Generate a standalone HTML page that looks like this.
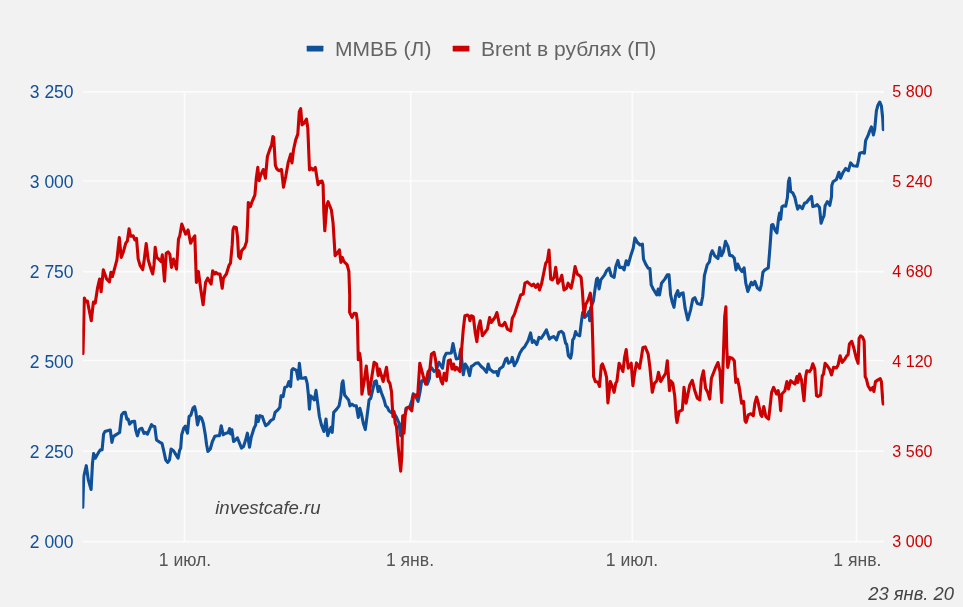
<!DOCTYPE html>
<html><head><meta charset="utf-8">
<style>
html,body{margin:0;padding:0;background:#f2f2f2;}
svg{display:block;filter:blur(0.35px);font-family:"Liberation Sans",sans-serif;}
</style></head><body>
<svg width="963" height="607" viewBox="0 0 963 607">
<rect width="963" height="607" fill="#f2f2f2"/>
<g stroke="#fcfcfc" stroke-width="1.7" fill="none">
<path d="M83 91.9H884M83 181.0H884M83 271.7H884M83 360.5H884M83 451.1H884M83 541.6H884"/>
<path d="M184.5 91.9V541.6M410.6 91.9V541.6M632.3 91.9V541.6M856.5 91.9V541.6"/>
</g>
<clipPath id="pc"><rect x="82.3" y="88" width="801.9" height="456"/></clipPath>
<g id="lines" clip-path="url(#pc)" fill="none" stroke-width="3.1" stroke-linejoin="round" stroke-linecap="round">
<path id="blue" stroke="#0f5098" d="M82.8 507.3L83.7 476.5L86.3 465.7L88.3 479.9L91.1 489.5L92.5 463.2L93.6 453.6L95.3 458.2L99.1 451.6L100.3 449.9L102.1 449.9L103.6 434.1L104.9 431.6L107.4 430.8L110.3 430.0L111.9 442.4L113.3 436.6L115.8 434.9L119.6 432.5L121.6 415.0L123.6 412.5L125.2 412.2L126.9 419.1L128.2 419.1L129.6 424.1L131.9 421.6L134.6 421.3L135.7 430.0L137.4 435.8L139.5 429.1L141.9 428.3L144.0 433.3L145.7 432.5L147.4 434.1L149.9 428.3L151.5 424.6L153.2 426.3L154.8 426.6L156.5 439.9L159.5 442.1L162.0 443.3L163.7 450.7L165.7 459.9L167.8 462.4L169.5 459.9L171.1 449.1L173.5 450.7L175.6 454.1L178.1 458.2L179.5 450.7L180.7 448.1L181.7 434.8L183.7 428.2L185.3 426.2L187.5 433.2L189.1 416.5L190.8 415.2L193.0 408.2L194.6 406.6L195.8 411.5L197.5 424.9L199.6 416.5L201.6 418.2L203.3 423.2L205.3 434.8L206.6 444.8L207.9 451.5L210.3 449.0L212.4 441.5L214.9 436.2L217.4 435.7L219.4 435.7L221.2 425.7L223.2 434.8L225.7 433.2L228.2 432.8L229.6 428.5L230.7 434.0L231.9 429.8L233.6 441.5L235.7 439.8L237.4 437.8L239.5 443.1L241.5 448.1L243.5 446.5L245.7 439.8L247.4 433.2L249.5 447.3L251.2 437.3L254.0 428.2L255.7 424.9L256.5 415.7L258.2 421.5L259.8 415.7L262.3 416.5L264.0 421.5L265.7 425.7L268.1 424.0L270.6 420.7L273.5 419.0L275.1 412.4L278.1 409.6L279.8 407.4L281.1 395.7L283.1 396.6L284.8 387.4L287.3 386.3L288.9 381.6L290.6 386.6L291.8 370.0L293.1 368.6L296.4 370.3L298.1 379.1L299.4 363.3L301.1 378.3L303.1 378.3L305.6 377.5L307.2 383.3L308.4 394.9L309.4 409.1L310.6 395.7L312.2 397.4L314.4 399.9L316.0 390.4L317.7 403.2L319.4 416.5L321.4 424.9L323.9 431.5L326.0 419.0L327.7 435.7L329.4 430.7L331.0 427.3L332.2 432.3L333.7 412.4L336.7 409.1L339.1 405.8L340.8 396.6L342.0 383.3L343.0 380.8L344.6 395.0L346.6 397.5L348.6 399.9L350.0 405.8L352.0 404.1L354.1 405.8L356.3 405.8L358.3 417.4L359.9 408.3L361.3 413.3L363.3 423.2L365.3 429.6L366.9 417.4L369.1 399.9L370.7 398.3L372.9 389.1L374.6 381.7L376.2 380.8L378.2 391.6L379.4 386.6L381.6 393.3L384.1 399.9L385.7 405.8L387.4 407.4L389.0 410.8L391.2 412.4L394.0 413.3L396.5 417.4L399.0 423.2L400.7 435.7L402.0 424.9L403.2 416.6L405.2 414.3L406.0 408.4L410.0 406.3L412.0 399.9L413.2 393.8L416.0 397.0L418.1 401.3L420.0 392.0L421.6 381.0L423.1 380.0L427.3 384.1L429.5 378.3L429.8 369.8L431.5 367.7L434.0 371.5L436.4 369.8L438.9 362.3L442.5 368.2L444.2 357.4L446.3 353.2L449.1 353.2L451.3 352.9L453.0 343.6L454.6 351.6L456.3 359.0L459.1 358.2L460.8 349.1L462.1 363.2L463.3 374.8L465.3 364.0L467.4 367.4L469.6 375.7L471.3 366.5L472.9 365.7L475.8 363.2L478.3 362.9L481.2 366.5L483.6 368.5L486.6 372.3L488.2 364.0L489.6 369.0L493.6 372.3L496.5 371.5L497.9 375.7L499.5 369.0L502.9 366.5L505.7 359.0L506.9 358.2L508.5 363.2L511.2 361.5L512.3 357.4L514.3 365.7L516.8 361.5L519.8 353.2L522.3 349.1L524.8 346.6L528.1 340.7L530.6 332.9L532.3 342.4L534.0 340.7L536.8 344.6L539.0 337.4L541.1 338.3L544.0 334.1L546.4 329.9L549.4 339.1L551.4 337.4L553.9 336.6L556.4 339.9L558.9 332.4L561.4 331.3L563.4 333.3L565.6 343.2L566.7 344.1L568.4 355.7L570.6 358.2L571.7 353.2L572.7 339.9L573.9 338.3L575.6 331.6L577.2 334.9L579.7 335.8L581.4 321.6L582.7 312.5L584.7 317.5L587.2 315.0L588.9 311.6L589.7 320.8L590.5 308.3L593.3 301.5L595.3 287.4L596.6 279.1L597.5 278.2L599.1 289.0L600.8 279.9L604.6 274.9L606.6 270.7L609.1 268.2L611.3 275.7L614.1 277.4L615.8 266.6L617.9 260.4L619.6 267.4L622.4 267.4L624.1 269.9L626.2 260.8L628.2 264.9L630.7 255.8L633.2 248.3L634.9 238.0L637.4 242.5L640.2 245.0L642.4 244.1L643.5 259.1L645.7 264.1L648.2 268.2L649.9 268.6L651.2 284.9L653.2 289.0L656.8 294.9L658.2 289.0L659.5 294.9L661.5 283.2L664.8 279.1L667.3 274.9L669.0 274.9L670.6 294.9L672.3 302.3L674.0 307.3L675.6 295.7L677.8 290.7L679.0 296.5L681.5 293.2L683.1 292.9L685.1 308.2L687.8 319.8L690.6 309.8L692.8 299.0L694.8 297.7L697.3 303.5L701.1 304.5L702.7 296.5L704.4 275.7L707.2 264.9L709.4 261.9L710.6 254.9L712.2 250.8L714.7 255.8L718.0 258.6L719.7 247.5L721.4 255.8L723.4 251.6L725.5 241.3L728.0 246.6L729.7 255.4L732.2 255.8L734.3 258.3L736.0 269.9L737.7 264.1L740.0 269.1L742.0 271.5L744.1 267.8L745.8 283.1L747.8 291.5L750.0 285.6L751.3 282.3L753.0 284.8L754.9 281.5L757.4 288.1L759.9 290.1L761.3 284.8L762.9 272.3L764.9 269.8L768.3 267.8L769.9 248.2L771.6 224.9L772.9 224.6L774.9 229.9L776.9 232.9L778.6 218.3L779.6 213.0L780.7 219.1L781.9 207.0L783.2 205.8L785.7 206.3L787.4 197.5L788.5 181.5L789.5 178.2L790.7 191.5L792.9 193.1L794.9 197.5L796.2 203.3L797.7 209.1L799.5 205.8L802.3 208.6L804.5 203.3L806.5 202.5L809.0 199.2L811.5 196.3L812.8 206.6L815.7 205.8L817.3 204.6L819.5 207.5L821.1 223.3L822.8 218.3L824.0 215.8L825.1 205.8L827.3 201.7L828.5 202.5L829.8 205.3L831.5 196.7L831.8 185.6L833.1 181.8L836.4 179.5L838.9 172.3L840.6 178.2L842.8 172.8L845.6 168.5L848.4 170.7L850.6 162.9L853.1 165.7L857.2 166.2L858.4 160.7L859.7 153.2L862.2 152.4L864.4 153.2L865.6 140.7L868.0 135.7L869.7 130.8L871.4 126.9L873.4 134.9L874.7 129.1L876.4 110.8L878.0 105.0L879.7 102.0L881.4 105.8L882.7 118.3L883.3 129.6"/>
<path id="red" stroke="#cc0000" d="M83.0 353.5L84.3 298.0L85.9 301.6L87.4 301.1L91.3 320.8L93.4 302.1L95.2 303.2L97.5 288.2L99.6 279.0L101.1 291.8L103.3 269.9L106.6 279.0L109.4 281.9L110.9 272.4L112.4 276.5L114.9 267.4L116.9 259.9L119.3 237.5L121.2 257.4L123.2 252.4L125.7 243.3L127.4 240.8L129.1 228.8L130.7 236.3L133.2 235.8L134.9 239.9L136.5 238.3L138.2 259.1L140.2 265.7L142.7 269.6L144.0 261.6L146.2 243.6L148.2 259.9L150.7 268.2L152.7 274.0L154.0 264.9L155.2 247.4L156.8 257.4L159.5 259.9L161.2 261.6L162.3 254.9L164.5 281.2L166.2 253.3L168.1 251.9L169.8 254.1L171.5 267.4L173.5 259.1L176.5 269.1L178.5 239.1L179.8 235.8L181.8 224.1L184.0 230.0L185.6 234.1L188.1 230.0L190.6 243.3L193.1 238.3L194.8 235.8L196.4 282.4L198.4 271.5L200.6 288.2L203.1 304.8L205.6 282.4L207.7 278.2L211.1 284.0L212.7 270.7L214.7 274.0L216.0 272.4L218.0 274.0L220.0 274.0L222.2 288.2L223.4 278.2L226.4 274.0L228.9 265.7L230.5 263.2L232.2 244.9L233.0 229.9L234.1 226.9L236.3 227.4L237.5 236.6L238.6 256.5L240.3 258.5L241.6 250.7L244.6 247.4L246.6 241.6L247.5 224.9L248.3 202.5L250.3 206.6L252.4 200.8L254.1 197.0L254.9 195.1L256.3 178.2L257.8 167.4L259.1 180.7L260.8 174.8L263.3 169.5L265.4 178.2L267.4 156.5L269.6 149.9L271.6 144.9L272.9 136.6L273.7 137.4L275.4 165.7L276.9 169.0L279.1 170.7L281.5 169.5L283.5 187.3L285.7 176.5L288.2 162.4L290.7 154.1L292.0 162.9L293.5 149.9L295.7 139.9L297.8 134.1L299.3 111.6L300.7 108.6L302.0 124.9L304.0 123.3L306.5 119.1L307.8 128.3L309.5 169.9L311.5 168.2L313.1 169.9L315.3 167.4L318.1 184.8L320.1 181.5L322.0 181.0L323.1 184.8L323.8 211.6L324.8 230.8L326.8 205.0L328.1 201.7L331.4 210.0L333.1 223.3L335.1 255.7L337.3 253.2L339.4 249.9L340.9 262.4L342.3 257.4L343.9 261.5L347.2 264.9L348.9 271.5L349.7 296.0L349.6 312.4L352.0 317.4L354.1 313.3L356.3 313.6L357.4 321.6L358.3 359.8L359.6 353.2L360.8 361.5L361.9 394.1L364.1 381.7L366.3 366.0L369.1 394.1L374.1 362.3L376.6 364.0L378.2 375.6L379.4 369.0L383.2 381.5L386.5 367.3L388.2 380.6L389.9 383.3L391.5 391.6L392.9 416.6L394.0 411.6L395.2 423.2L396.5 426.6L398.5 449.8L400.7 471.1L401.9 454.8L402.7 415.7L404.0 433.2L405.2 414.9L406.5 408.3L409.0 407.4L411.8 410.8L413.5 395.8L415.7 395.0L417.7 395.8L419.8 363.2L423.1 375.6L425.6 384.1L428.1 371.5L429.8 369.8L431.5 354.0L434.0 352.4L435.6 359.8L437.3 376.5L438.9 370.7L441.1 380.6L442.5 384.0L444.2 373.2L446.3 380.7L448.3 360.7L450.3 359.9L452.0 369.0L453.6 364.0L455.0 369.9L456.6 367.4L460.0 371.5L461.6 349.9L463.3 329.1L464.9 315.8L467.4 315.0L469.1 316.6L469.9 320.8L471.3 315.8L473.3 316.6L475.3 333.3L476.9 341.6L478.6 326.6L480.2 320.8L482.4 335.8L487.4 329.1L489.6 317.5L491.2 322.5L494.9 317.5L496.9 312.5L499.5 324.9L502.4 325.8L504.9 322.5L507.4 329.1L510.7 330.8L512.3 318.3L514.5 314.1L515.8 309.9L520.7 294.9L523.2 294.1L524.9 283.2L527.4 281.9L529.9 284.1L531.9 285.7L533.6 284.1L535.7 287.4L537.9 284.1L539.5 289.9L541.5 284.1L545.7 263.3L547.4 260.8L549.0 250.0L550.7 279.1L552.3 279.9L554.0 277.4L555.7 267.4L557.8 283.2L559.8 280.7L561.8 275.3L564.0 289.9L566.5 288.2L568.1 283.2L571.1 288.2L573.1 279.1L575.1 266.6L577.3 274.1L579.8 275.8L581.1 277.4L582.3 289.9L584.0 315.7L585.6 304.9L588.1 299.9L590.3 293.2L591.4 303.2L592.0 316.6L593.0 349.9L593.6 376.5L595.3 381.5L598.0 382.3L599.5 386.5L601.3 365.7L602.5 364.0L604.9 370.7L606.6 377.3L607.9 402.9L610.3 381.5L612.4 386.5L614.1 392.3L615.8 383.2L616.9 381.5L619.1 363.2L620.7 366.5L622.9 371.5L624.6 357.4L626.2 349.6L628.2 368.2L631.2 363.2L632.9 385.7L634.6 373.2L636.5 362.9L639.5 368.2L641.5 356.5L642.9 347.4L645.2 346.9L648.2 354.1L649.9 367.4L652.3 392.3L654.5 383.2L656.8 380.7L658.5 372.3L660.7 381.5L663.2 377.3L665.7 373.2L667.3 360.7L669.5 390.6L670.6 380.8L672.8 383.3L674.8 396.6L676.1 416.5L677.0 422.4L679.0 411.6L682.3 409.9L684.0 387.4L686.1 403.2L689.8 384.9L692.3 380.3L694.8 390.8L697.3 398.3L699.8 399.9L701.4 379.1L703.4 370.8L705.6 388.3L707.7 392.4L709.7 399.1L711.4 378.3L715.6 367.5L718.0 362.5L720.0 371.6L721.7 402.4L723.0 366.5L724.7 316.6L725.9 306.7L726.7 346.6L727.7 367.4L729.7 357.4L732.2 358.2L734.3 360.7L735.8 382.4L737.5 379.1L739.1 386.5L741.6 403.2L743.6 401.5L745.0 420.6L746.1 422.3L748.3 414.8L750.8 413.7L753.3 415.7L754.9 403.2L756.6 397.0L758.3 403.2L760.8 414.8L761.9 416.5L763.8 406.5L765.8 416.5L768.6 419.0L769.9 408.2L771.6 392.4L773.6 387.4L776.6 394.0L778.2 390.7L779.6 398.2L780.7 410.7L781.9 394.0L784.9 390.7L786.9 381.6L788.5 389.0L790.7 380.7L794.9 384.1L796.9 376.6L797.9 382.4L799.5 374.1L801.5 379.9L804.0 400.7L805.7 376.6L806.8 370.7L809.5 371.6L811.2 369.1L812.8 363.8L814.8 369.1L816.5 395.7L818.1 396.5L820.6 394.9L822.3 375.7L823.5 374.1L825.1 363.3L827.3 365.8L829.5 369.1L831.5 374.9L833.5 367.4L836.4 367.9L838.1 364.9L840.1 355.8L842.3 362.4L844.8 359.1L846.8 355.8L848.1 354.9L849.4 344.1L851.7 341.3L853.9 348.3L856.1 357.4L858.1 363.3L859.1 338.3L860.6 335.8L862.7 337.5L864.1 340.8L865.2 376.6L866.4 379.1L868.0 385.7L870.5 389.9L872.7 387.4L873.9 391.5L875.5 381.6L878.0 379.9L880.2 378.7L881.4 381.6L882.7 399.9L883.2 404.0"/>
</g>
<g font-size="17.5" fill="#0f5098" text-anchor="end">
<text x="73.6" y="97.8">3 250</text>
<text x="73.6" y="187.8">3 000</text>
<text x="73.6" y="277.7">2 750</text>
<text x="73.6" y="367.7">2 500</text>
<text x="73.6" y="457.6">2 250</text>
<text x="73.6" y="547.5">2 000</text>
</g>
<g font-size="16.1" fill="#cc0000">
<text x="892.3" y="96.9">5 800</text>
<text x="892.3" y="186.9">5 240</text>
<text x="892.3" y="276.9">4 680</text>
<text x="892.3" y="366.9">4 120</text>
<text x="892.3" y="456.9">3 560</text>
<text x="892.3" y="546.9">3 000</text>
</g>
<g font-size="17.6" fill="#555555" text-anchor="middle">
<text x="185" y="566.4">1 июл.</text>
<text x="410" y="566.4">1 янв.</text>
<text x="632" y="566.4">1 июл.</text>
<text x="857.4" y="566.4">1 янв.</text>
</g>
<text x="215.2" y="514.2" font-size="18.6" font-style="italic" fill="#444444">investcafe.ru</text>
<text x="954" y="599.8" font-size="18.4" font-style="italic" fill="#444444" text-anchor="end">23 янв. 20</text>
<g font-size="21" fill="#646464">
<rect x="306.7" y="45.7" width="16.7" height="5.7" rx="0.6" fill="#0f5098"/>
<text x="335" y="55.7">ММВБ (Л)</text>
<rect x="452.7" y="45.7" width="16.7" height="5.7" rx="0.6" fill="#cc0000"/>
<text x="481" y="55.7">Brent в рублях (П)</text>
</g>
</svg>
</body></html>
